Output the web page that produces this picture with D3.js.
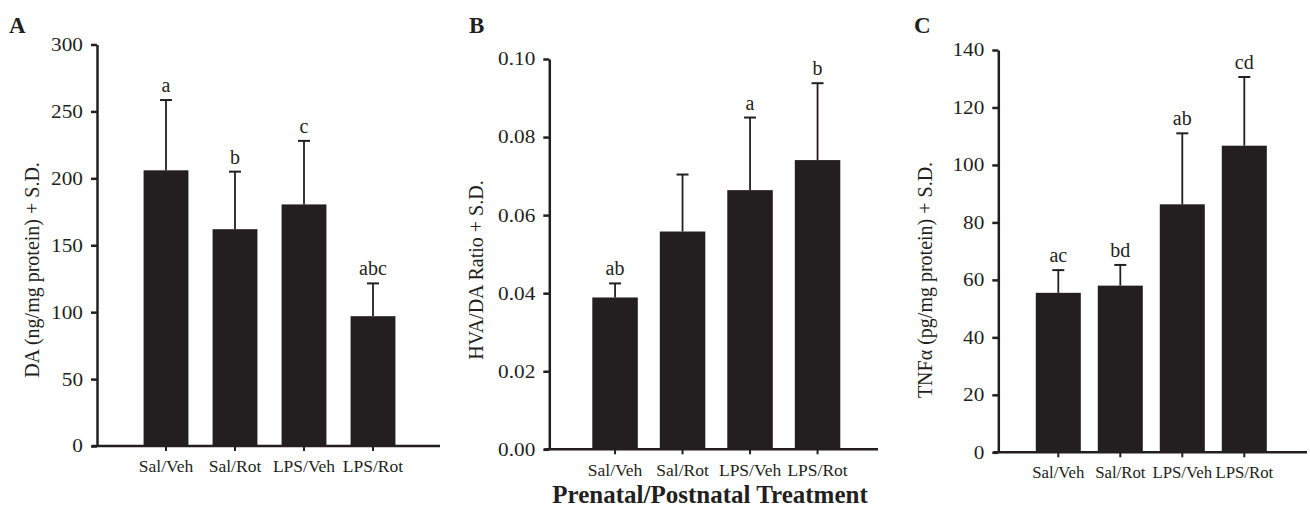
<!DOCTYPE html>
<html>
<head>
<meta charset="utf-8">
<script src="https://cdn.jsdelivr.net/npm/d3@7"></script>
<style>
  body { margin: 0; background: #fff; }
  text { font-family: "Liberation Serif", "Times New Roman", serif; fill: #231f20; }
</style>
</head>
<body>
<script>
// group names on every panel
var categories = ["Sal/Veh", "Sal/Rot", "LPS/Veh", "LPS/Rot"];

// panel A - DA
var daMean = [206, 162, 180.5, 97];
var daSD = [52.5, 43, 47.5, 24.5];
var daLetters = ["a", "b", "c", "abc"];
var daTicks = [0, 50, 100, 150, 200, 250, 300];

// panel B - HVA/DA ratio
var hvaMean = [0.0389, 0.0558, 0.0664, 0.0741];
var hvaSD = [0.0036, 0.0146, 0.0186, 0.0197];
var hvaLetters = ["ab", "", "a", "b"];
var hvaTicks = [0, 0.02, 0.04, 0.06, 0.08, 0.10];

// panel C - TNFa
var tnfMean = [55.5, 58, 86.3, 106.7];
var tnfSD = [7.9, 7.2, 24.7, 23.9];
var tnfLetters = ["ac", "bd", "ab", "cd"];
var tnfTicks = [0, 20, 40, 60, 80, 100, 120, 140];

var svgWidth = 1310;
var svgHeight = 519;
var ink = "#231f20";

var svg = d3.select("body")
  .append("svg")
  .attr("width", svgWidth)
  .attr("height", svgHeight);

function drawPanel(opt) {
  var g = svg.append("g");

  var yScale = d3.scaleLinear()
    .domain([0, opt.max])
    .range([opt.y0, opt.y1]);

  var xScale = d3.scaleBand()
    .domain(categories)
    .range([opt.x0, opt.x1])
    .paddingInner(opt.pad)
    .paddingOuter(opt.pad / 2);

  // bars
  g.selectAll(".bar")
    .data(opt.mean)
    .enter()
    .append("rect")
    .attr("x", (d, i) => xScale(categories[i]))
    .attr("y", d => yScale(d))
    .attr("width", xScale.bandwidth())
    .attr("height", d => opt.y0 - yScale(d))
    .attr("fill", ink);

  // error bars (upper only)
  opt.mean.forEach(function(m, i) {
    var cx = xScale(categories[i]) + xScale.bandwidth() / 2;
    var top = yScale(m + opt.sd[i]);
    g.append("line")
      .attr("x1", cx).attr("x2", cx)
      .attr("y1", yScale(m)).attr("y2", top)
      .attr("stroke", ink).attr("stroke-width", 1.8);
    g.append("line")
      .attr("x1", cx - 6).attr("x2", cx + 6)
      .attr("y1", top).attr("y2", top)
      .attr("stroke", ink).attr("stroke-width", 2);
    if (opt.letters[i]) {
      g.append("text")
        .attr("x", cx)
        .attr("y", top - 8)
        .attr("text-anchor", "middle")
        .style("font-size", "20px")
        .text(opt.letters[i]);
    }
  });

  // y axis
  var yAxis = d3.axisLeft(yScale)
    .tickValues(opt.ticks)
    .tickSize(6)
    .tickSizeOuter(0)
    .tickPadding(8)
    .tickFormat(opt.fmt);
  var ya = g.append("g")
    .attr("transform", `translate(${opt.axisX}, 0)`)
    .call(yAxis);
  ya.select(".domain").attr("stroke", ink).attr("stroke-width", 2.5);
  ya.selectAll(".tick line").attr("stroke", ink).attr("stroke-width", 2.5);
  ya.selectAll(".tick text")
    .style("font-size", "18.5px")
    .attr("fill", ink)
    .style("font-family", "Liberation Serif")
    .attr("transform", "scale(1.15,1)")
    .attr("x", -14 / 1.15);

  // x axis
  var xAxis = d3.axisBottom(xScale)
    .tickSize(5)
    .tickSizeOuter(0)
    .tickPadding(9);
  var xa = g.append("g")
    .attr("transform", `translate(0, ${opt.y0})`)
    .call(xAxis);
  xa.select(".domain").remove();
  xa.selectAll(".tick line").attr("stroke", ink).attr("stroke-width", 2);
  xa.selectAll(".tick text")
    .style("font-size", opt.catSize + "px")
    .style("font-family", "Liberation Serif")
    .attr("fill", ink);
  g.append("line")
    .attr("x1", opt.axisX - 5).attr("x2", opt.xEnd)
    .attr("y1", opt.y0).attr("y2", opt.y0)
    .attr("stroke", ink).attr("stroke-width", 2.5);

  // y label
  g.append("text")
    .attr("transform", `translate(${opt.labelX}, ${opt.labelY}) rotate(-90)`)
    .attr("text-anchor", "middle")
    .attr("dominant-baseline", "central")
    .style("font-size", "20px")
    .text(opt.label);

  // panel letter
  g.append("text")
    .attr("x", opt.letterX)
    .attr("y", 33)
    .style("font-size", "23px")
    .style("font-weight", "bold")
    .text(opt.panel);
}

drawPanel({
  panel: "A", letterX: 9,
  mean: daMean, sd: daSD, letters: daLetters, ticks: daTicks, max: 300,
  fmt: d3.format("d"),
  y0: 446, y1: 44.5, x0: 131.5, x1: 407.5, pad: 0.35,
  axisX: 97, xEnd: 440, catSize: 17.5,
  label: "DA (ng/mg protein) + S.D.", labelX: 32, labelY: 270
});

drawPanel({
  panel: "B", letterX: 469,
  mean: hvaMean, sd: hvaSD, letters: hvaLetters, ticks: hvaTicks, max: 0.1,
  fmt: d3.format(".2f"),
  y0: 449.3, y1: 59, x0: 581.3, x1: 851.3, pad: 0.326,
  axisX: 549.3, xEnd: 878, catSize: 17.5,
  label: "HVA/DA Ratio + S.D.", labelX: 476, labelY: 270
});

drawPanel({
  panel: "C", letterX: 914,
  mean: tnfMean, sd: tnfSD, letters: tnfLetters, ticks: tnfTicks, max: 140,
  fmt: d3.format("d"),
  y0: 452.3, y1: 50, x0: 1027.3, x1: 1275.3, pad: 0.274,
  axisX: 998.3, xEnd: 1307, catSize: 16.8,
  label: "TNF\u03b1 (pg/mg protein) + S.D.", labelX: 925, labelY: 280
});

// shared x title
svg.append("text")
  .attr("x", 710)
  .attr("y", 503)
  .attr("text-anchor", "middle")
  .style("font-size", "25px")
  .style("font-weight", "bold")
  .text("Prenatal/Postnatal Treatment");
</script>
</body>
</html>
